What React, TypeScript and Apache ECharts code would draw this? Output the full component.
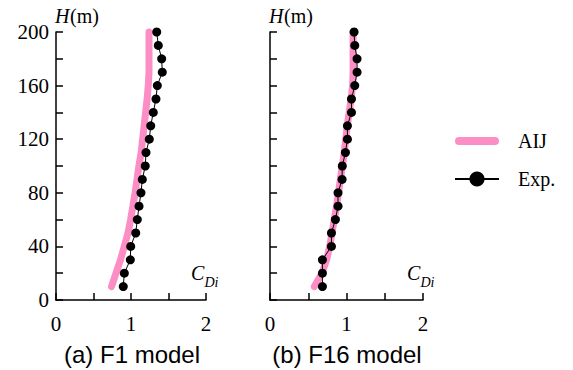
import React, { useEffect, useRef } from "react";
import * as echarts from "echarts";

const heights = [10, 20, 30, 40, 50, 60, 70, 80, 90, 100, 110, 120, 130, 140, 150, 160, 170, 180, 190, 200];
const aijF1 = [0.74, 0.8, 0.86, 0.91, 0.96, 0.995, 1.025, 1.055, 1.08, 1.105, 1.135, 1.155, 1.175, 1.195, 1.215, 1.23, 1.24, 1.24, 1.24, 1.24];
const expF1 = [0.897, 0.911, 0.991, 0.996, 1.063, 1.084, 1.107, 1.133, 1.151, 1.19, 1.2, 1.244, 1.263, 1.297, 1.333, 1.351, 1.417, 1.409, 1.364, 1.343];
const aijF16 = [0.58, 0.68, 0.74, 0.78, 0.81, 0.84, 0.87, 0.895, 0.92, 0.945, 0.97, 0.99, 1.01, 1.035, 1.06, 1.08, 1.086, 1.086, 1.086, 1.086];
const expF16 = [0.685, 0.685, 0.685, 0.803, 0.803, 0.855, 0.889, 0.889, 0.942, 0.945, 0.986, 1.012, 1.012, 1.065, 1.065, 1.108, 1.138, 1.138, 1.108, 1.099];
const panelTitles = ["(a) F1 model", "(b) F16 model"];
const seriesNames = ["AIJ", "Exp."];

const PINK = "#fc8dc5";
const SERIF = "'Liberation Serif', 'Times New Roman', serif";
const SANS = "'Liberation Sans', Arial, sans-serif";

export default function App() {
  const ref = useRef<HTMLDivElement>(null);
  useEffect(() => {
    document.body.style.margin = "0";
    const chart = echarts.init(ref.current!, null, { renderer: "svg" });
    const pair = (xs: number[]) => xs.map((v, i) => [v, heights[i]]);
    const grids = [
      { left: 56, top: 32, width: 150, height: 268 },
      { left: 270, top: 32, width: 153, height: 268 },
    ];
    const axisCommon = {
      axisLine: { show: true, lineStyle: { color: "#000", width: 1.5 } },
      axisTick: { show: true, inside: true, length: 7, lineStyle: { color: "#000", width: 1.5 } },
      splitLine: { show: false },
    };
    const xAxes = grids.map((_, i) => ({
      type: "value",
      gridIndex: i,
      min: 0,
      max: 2,
      interval: 0.5,
      ...axisCommon,
      axisLabel: {
        margin: 13,
        fontFamily: SERIF,
        fontSize: 21,
        color: "#000",
        formatter: (v: number) => (Number.isInteger(v) ? String(v) : ""),
      },
    }));
    const yAxes = grids.map((_, i) => ({
      type: "value",
      gridIndex: i,
      min: 0,
      max: 200,
      interval: 20,
      ...axisCommon,
      axisLabel: {
        show: i === 0,
        margin: 7,
        fontFamily: SERIF,
        fontSize: 21,
        color: "#000",
        formatter: (v: number) => (v % 40 === 0 ? String(v) : ""),
      },
    }));
    const aijData = [aijF1, aijF16];
    const expData = [expF1, expF16];
    const series: any[] = [];
    grids.forEach((_, i) => {
      series.push({
        name: seriesNames[0],
        type: "line",
        xAxisIndex: i,
        yAxisIndex: i,
        data: pair(aijData[i]),
        showSymbol: false,
        symbol: "circle",
        clip: false,
        color: PINK,
        lineStyle: { color: PINK, width: 7, cap: "round", join: "round" },
        z: 2,
      });
      series.push({
        name: seriesNames[1],
        type: "line",
        xAxisIndex: i,
        yAxisIndex: i,
        data: pair(expData[i]),
        symbol: "circle",
        symbolSize: 9,
        clip: false,
        color: "#000",
        itemStyle: { color: "#000" },
        lineStyle: { color: "#000", width: 1 },
        z: 3,
      });
    });
    const graphics: any[] = [];
    const hX = [55, 269];
    const cX = [191, 407];
    const titleX = [132, 347];
    grids.forEach((_, i) => {
      graphics.push({
        type: "text",
        x: hX[i],
        y: 16,
        style: { text: "H", font: `italic 20px ${SERIF}`, fill: "#000", verticalAlign: "middle", align: "left" },
      });
      graphics.push({
        type: "text",
        x: hX[i] + 15,
        y: 16,
        style: { text: "(m)", font: `20px ${SERIF}`, fill: "#000", verticalAlign: "middle", align: "left" },
      });
      graphics.push({
        type: "text",
        x: cX[i],
        y: 273,
        style: { text: "C", font: `italic 20px ${SERIF}`, fill: "#000", verticalAlign: "middle", align: "left" },
      });
      graphics.push({
        type: "text",
        x: cX[i] + 13.5,
        y: 282,
        style: { text: "Di", font: `italic 14px ${SERIF}`, fill: "#000", verticalAlign: "middle", align: "left" },
      });
      graphics.push({
        type: "text",
        x: titleX[i],
        y: 354,
        style: { text: panelTitles[i], font: `24px ${SANS}`, fill: "#000", verticalAlign: "middle", align: "center" },
      });
    });
    chart.setOption({
      animation: false,
      grid: grids,
      xAxis: xAxes,
      yAxis: yAxes,
      series,
      legend: {
        orient: "vertical",
        left: 454,
        top: 131,
        padding: 0,
        itemWidth: 44,
        itemHeight: 19,
        itemGap: 18,
        data: [
          { name: seriesNames[0], icon: "path://M4,0 L40,0 A4,4 0 0 1 40,8 L4,8 A4,4 0 0 1 4,0 Z" },
          { name: seriesNames[1] },
        ],
        textStyle: { fontFamily: SERIF, fontSize: 20, color: "#000", padding: [0, 0, 0, 14] },
      },
      graphic: graphics,
    });
    return () => chart.dispose();
  }, []);
  return <div ref={ref} style={{ width: 573, height: 370 }} />;
}
